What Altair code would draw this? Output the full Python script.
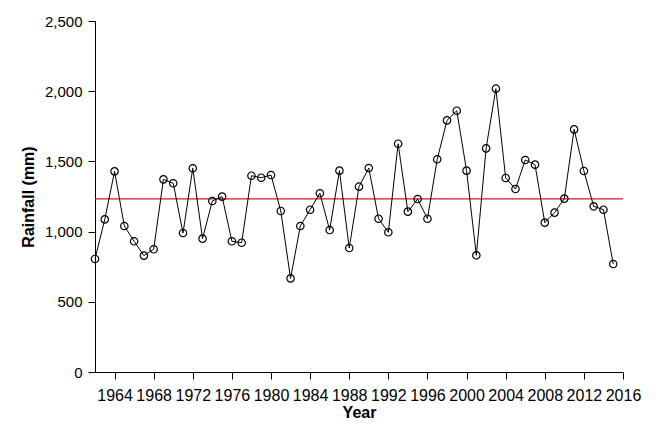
import altair as alt
import pandas as pd

years = list(range(1962, 2016))
rainfall = [
    805, 1087, 1429, 1040, 931, 829, 874, 1372, 1344, 990,
    1451, 950, 1218, 1249, 931, 921, 1398, 1384, 1403, 1147,
    667, 1040, 1156, 1273, 1011, 1434, 883, 1320, 1453, 1092,
    995, 1626, 1142, 1232, 1092, 1515, 1792, 1861, 1434, 831,
    1593, 2018, 1382, 1303, 1510, 1477, 1064, 1135, 1235, 1728,
    1432, 1180, 1156, 769,
]
mean_value = [1233]
mean_span = [1962, 2016]
x_ticks = list(range(1964, 2017, 4))
y_ticks = [0, 500, 1000, 1500, 2000, 2500]

df = pd.DataFrame({"Year": years, "Rainfall": rainfall})
mean_df = pd.DataFrame({"x": [mean_span[0]], "x2": [mean_span[1]], "y": mean_value})

FONT = "Liberation Sans"

x_scale = alt.Scale(domain=[1962, 2016], nice=False, zero=False)
y_scale = alt.Scale(domain=[0, 2500], nice=False)

x_axis = alt.Axis(
    values=x_ticks, format="d", title="Year", grid=False,
    labelFont=FONT, labelFontSize=16, labelColor="black", labelPadding=8,
    labelOverlap=False, labelFlush=False,
    titleFont=FONT, titleFontSize=16, titleFontWeight="bold", titleColor="black",
    titlePadding=1,
    tickSize=7, tickColor="black", domainColor="black", tickWidth=1, domainWidth=1,
)
y_axis = alt.Axis(
    values=y_ticks, format=",.0f", title="Rainfall (mm)", grid=False,
    labelFont=FONT, labelFontSize=15, labelColor="black", labelPadding=6,
    titleFont=FONT, titleFontSize=16, titleFontWeight="bold", titleColor="black",
    titlePadding=8,
    tickSize=7, tickColor="black", domainColor="black", tickWidth=1, domainWidth=1,
)

line = alt.Chart(df).mark_line(color="black", strokeWidth=1).encode(
    x=alt.X("Year:Q", scale=x_scale, axis=x_axis),
    y=alt.Y("Rainfall:Q", scale=y_scale, axis=y_axis),
)
points = alt.Chart(df).mark_point(
    shape="circle", filled=False, color="black", size=55, strokeWidth=1.2, opacity=1
).encode(
    x=alt.X("Year:Q", scale=x_scale),
    y=alt.Y("Rainfall:Q", scale=y_scale),
)
mean_rule = alt.Chart(mean_df).mark_rule(color="#c0201c", strokeWidth=1.2).encode(
    x=alt.X("x:Q", scale=x_scale),
    x2="x2:Q",
    y=alt.Y("y:Q", scale=y_scale),
)

chart = (
    alt.layer(mean_rule, line, points)
    .properties(
        width=528,
        height=351,
        autosize=alt.AutoSizeParams(type="none"),
        padding={"left": 87, "top": 13, "right": 25, "bottom": 48},
        background="white",
    )
    .configure_view(stroke=None)
)

chart.save("out.html", embed_options={"renderer": "svg", "actions": False})
